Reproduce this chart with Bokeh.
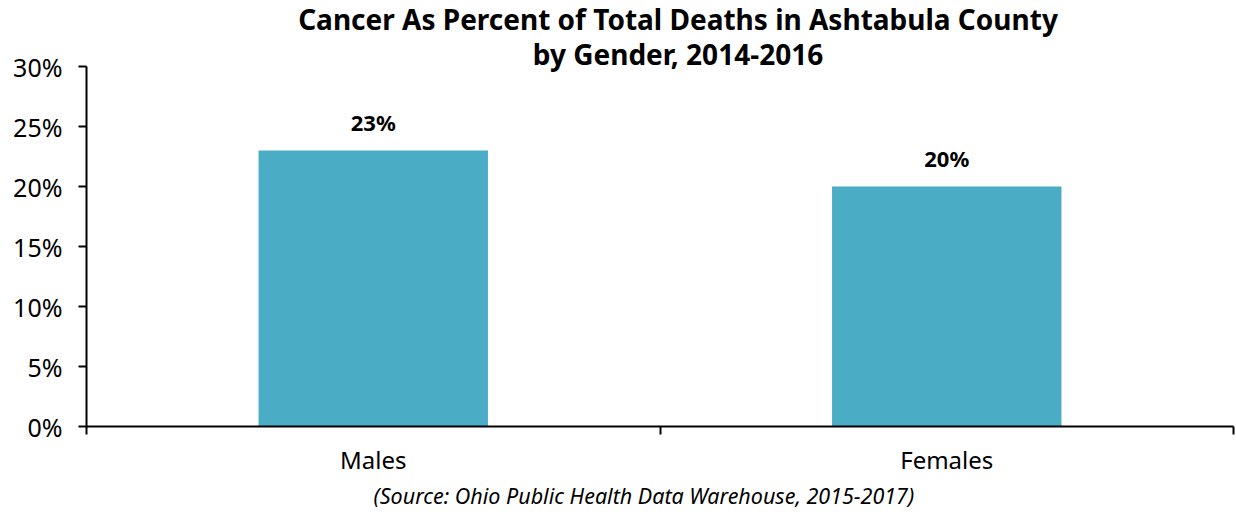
from bokeh.plotting import figure
from bokeh.models import (Range1d, FixedTicker, LinearAxis, LabelSet, Label,
                          Title, ColumnDataSource, PrintfTickFormatter)
from bokeh.core.properties import value
from bokeh.embed import file_html
from bokeh.resources import INLINE

categories = ["Males", "Females"]
values = [23, 20]
y_ticks = [0, 5, 10, 15, 20, 25, 30]
title_lines = ["Cancer As Percent of Total Deaths in Ashtabula County",
               "by Gender, 2014-2016"]
source_note = "(Source: Ohio Public Health Data Warehouse, 2015-2017)"

FONT = "Noto Sans"
BAR = "#4BACC6"
Y_MAX = y_ticks[-1]

xs = [i + 0.5 for i in range(len(categories))]
src = ColumnDataSource(dict(x=xs, top=values,
                            lab=[f"{v}%" for v in values]))

# frame spans the full height above the axis so the title can sit inside it;
# the y axis itself is bounded to 0-30 %
p = figure(width=1236, height=512, output_backend="svg", toolbar_location=None,
           x_range=Range1d(0, len(categories)), y_range=Range1d(0, Y_MAX + 5.5),
           x_axis_type=None, y_axis_type=None,
           min_border_left=86, min_border_right=3, min_border_top=0,
           min_border_bottom=86)
p.outline_line_color = None
p.grid.visible = False
p.background_fill_color = "white"
p.title.visible = False

p.vbar(x="x", top="top", width=0.4, source=src, fill_color=BAR, line_color=None)

# y axis
yax = LinearAxis(ticker=FixedTicker(ticks=y_ticks), bounds=(0, Y_MAX),
                 formatter=PrintfTickFormatter(format="%d%%"))
yax.axis_line_width = 2
yax.major_tick_line_width = 2
yax.major_tick_in = 0
yax.major_tick_out = 8
yax.minor_tick_line_color = None
yax.major_label_text_font = FONT
yax.major_label_text_font_size = "25px"
yax.major_label_text_color = "black"
yax.major_label_standoff = 16
p.add_layout(yax, "left")

# x axis: labels at centres, ticks at category boundaries
xax = LinearAxis(ticker=FixedTicker(ticks=xs,
                                    minor_ticks=list(range(len(categories) + 1))))
xax.major_label_overrides = {x: c for x, c in zip(xs, categories)}
xax.axis_line_width = 2
xax.major_tick_line_color = None
xax.major_tick_out = 0
xax.major_tick_in = 0
xax.minor_tick_line_width = 2
xax.minor_tick_in = 0
xax.minor_tick_out = 8
xax.major_label_text_font = FONT
xax.major_label_text_font_size = "24px"
xax.major_label_text_color = "black"
xax.major_label_standoff = 8
p.add_layout(xax, "below")

labels = LabelSet(x="x", y="top", text="lab", source=src, y_offset=29,
                  text_align="center", text_baseline="middle",
                  text_font=value(FONT), text_font_size=value("22px"),
                  text_font_style="bold", text_color="black")
p.add_layout(labels)

xc = len(categories) / 2
for line, dy in zip(title_lines, [48, 13]):
    p.add_layout(Label(x=xc, y=Y_MAX, text=line, x_offset=18, y_offset=dy,
                       text_align="center", text_baseline="middle",
                       text_font=FONT, text_font_size="28px",
                       text_font_style="bold", text_color="black"))

src_title = Title(text=source_note, align="left", offset=287, standoff=0,
                  text_font=FONT, text_font_size="21.5px",
                  text_font_style="italic", text_color="black")
p.add_layout(src_title, "below")

open("out.html", "w").write(file_html(p, INLINE))
